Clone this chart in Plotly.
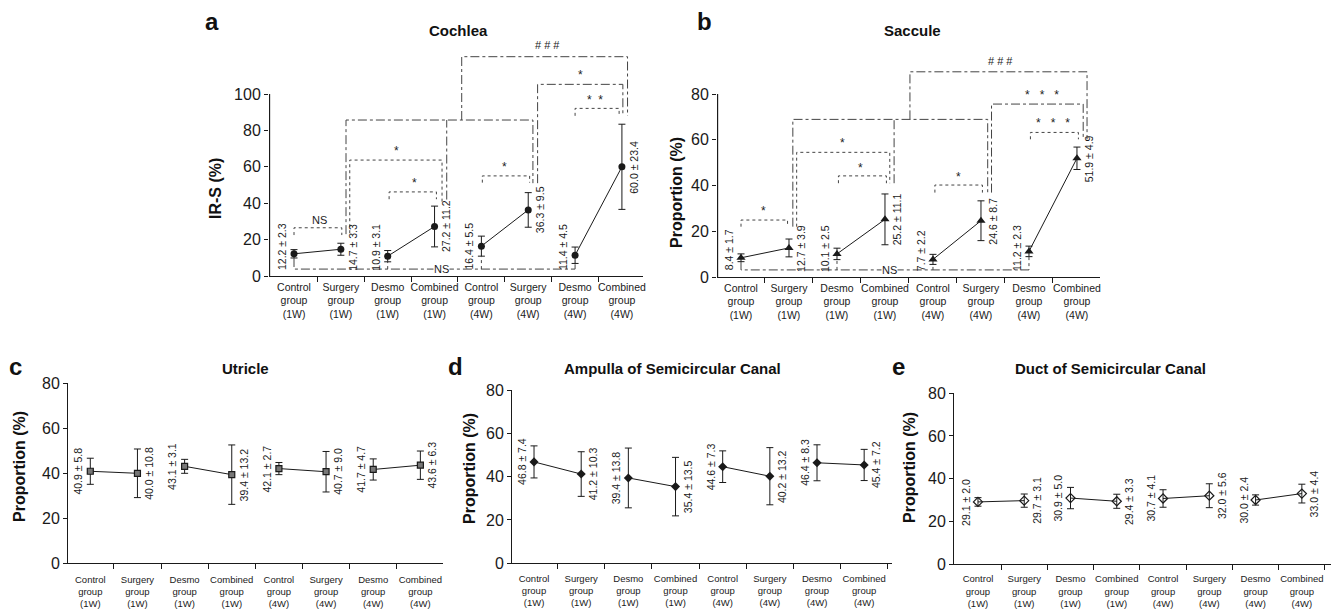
import plotly.graph_objects as go

W, H = 1331, 609

# ---------------- data ----------------
CATEGORIES = ["Control<br>group<br>(1W)", "Surgery<br>group<br>(1W)", "Desmo<br>group<br>(1W)",
              "Combined<br>group<br>(1W)", "Control<br>group<br>(4W)", "Surgery<br>group<br>(4W)",
              "Desmo<br>group<br>(4W)", "Combined<br>group<br>(4W)"]

COCHLEA_MEAN = [12.2, 14.7, 10.9, 27.2, 16.4, 36.3, 11.4, 60.0]
COCHLEA_SD = [2.3, 3.3, 3.1, 11.2, 5.5, 9.5, 4.5, 23.4]
SACCULE_MEAN = [8.4, 12.7, 10.1, 25.2, 7.7, 24.6, 11.2, 51.9]
SACCULE_SD = [1.7, 3.9, 2.5, 11.1, 2.2, 8.7, 2.3, 4.9]
UTRICLE_MEAN = [40.9, 40.0, 43.1, 39.4, 42.1, 40.7, 41.7, 43.6]
UTRICLE_SD = [5.8, 10.8, 3.1, 13.2, 2.7, 9.0, 4.7, 6.3]
AMPULLA_MEAN = [46.8, 41.2, 39.4, 35.4, 44.6, 40.2, 46.4, 45.4]
AMPULLA_SD = [7.4, 10.3, 13.8, 13.5, 7.3, 13.2, 8.3, 7.2]
DUCT_MEAN = [29.1, 29.7, 30.9, 29.4, 30.7, 32.0, 30.0, 33.0]
DUCT_SD = [2.0, 3.1, 5.0, 3.3, 4.1, 5.6, 2.4, 4.4]

# significance brackets: (x_left, x_right, y_top, y_left_end, y_right_end, dash)
COCHLEA_BRACKETS = [
    (0.0, 1.02, 26.5, 22.5, 22.5, "dot"),
    (2.03, 3.04, 46.2, 42.2, 42.2, "dot"),
    (1.19, 3.16, 63.7, 23.5, 40.0, "dot"),
    (1.11, 5.10, 85.7, 23.0, 51.0, "dashdot"),
    (3.58, 7.12, 120.5, 85.7, 88.0, "dashdot"),
    (5.20, 7.02, 105.3, 51.0, 88.0, "dashdot"),
    (6.00, 6.94, 92.1, 88.0, 88.0, "dot"),
    (4.02, 5.03, 55.0, 51.3, 51.3, "dot"),
]
COCHLEA_VLINES = [(3.26, 42.0, 85.7)]
COCHLEA_MARKS = [("NS", 0.55, 30.8), ("*", 2.58, 52.7), ("*", 2.19, 70.5), ("# # #", 5.42, 127.0),
                 ("*", 6.11, 112.3), ("*  *", 6.42, 98.5), ("*", 4.50, 61.5)]
COCHLEA_NS_BOTTOM = (3.8, [0, 2, 4, 6], 3.15)

SACCULE_BRACKETS = [
    (0.0, 0.97, 24.9, 22.0, 22.0, "dot"),
    (2.03, 3.03, 44.2, 41.0, 41.0, "dot"),
    (1.16, 3.10, 54.5, 22.0, 41.0, "dot"),
    (1.08, 5.14, 68.9, 22.0, 36.6, "dashdot"),
    (4.04, 5.03, 40.2, 36.9, 36.9, "dot"),
    (6.03, 7.03, 63.2, 60.2, 60.2, "dot"),
    (5.22, 7.13, 75.6, 36.9, 60.2, "dashdot"),
    (3.52, 7.21, 89.7, 68.9, 60.2, "dashdot"),
]
SACCULE_VLINES = [(3.19, 41.0, 68.9)]
SACCULE_MARKS = [("*", 0.47, 30.0), ("*", 2.50, 49.0), ("*", 2.12, 60.0), ("*", 4.53, 45.0),
                 ("*   *   *", 6.50, 68.6), ("*   *   *", 6.28, 80.7), ("# # #", 5.40, 94.6)]
SACCULE_NS_BOTTOM = (3.1, [0, 2, 4, 6], 3.09)

# ---------------- styles / layout ----------------
FONT = "Liberation Sans, Arial, Helvetica, sans-serif"
NARROW = "Liberation Sans Narrow, Arial Narrow, Liberation Sans, sans-serif"
INK = "#1a1a1a"

panels = [
    dict(letter="a", title="Cochlea", ytitle="IR-S (%)", mean=COCHLEA_MEAN, sd=COCHLEA_SD,
         px=(269, 643), xr=(-0.534, 7.45), py=(276, 39.4), yr=(0, 130), yticks=[0, 20, 40, 60, 80, 100],
         marker=dict(symbol="circle", size=7, color=INK), line="solid",
         brackets=COCHLEA_BRACKETS, vlines=COCHLEA_VLINES, marks=COCHLEA_MARKS, ns=COCHLEA_NS_BOTTOM,
         letter_pos=(212, 22), title_pos=(459, 30), ytitle_pos=(215, 188), standoff=1, xfs=10.5),
    dict(letter="b", title="Saccule", ytitle="Proportion (%)", mean=SACCULE_MEAN, sd=SACCULE_SD,
         px=(717, 1100), xr=(-0.5, 7.48), py=(277, 48.25), yr=(0, 100), yticks=[0, 20, 40, 60, 80],
         marker=dict(symbol="triangle-up", size=8, color=INK), line="solid",
         brackets=SACCULE_BRACKETS, vlines=SACCULE_VLINES, marks=SACCULE_MARKS, ns=SACCULE_NS_BOTTOM,
         letter_pos=(705, 22), title_pos=(912, 30), ytitle_pos=(677, 193), standoff=1, xfs=10.5),
    dict(letter="c", title="Utricle", ytitle="Proportion (%)", mean=UTRICLE_MEAN, sd=UTRICLE_SD,
         px=(68, 443), xr=(-0.473, 7.48), py=(563.3, 383.3), yr=(0, 80), yticks=[0, 20, 40, 60, 80],
         marker=dict(symbol="square", size=6, color="#777", line=dict(color=INK, width=1.2)), line="solid",
         brackets=[], vlines=[], marks=[], ns=None,
         letter_pos=(15, 366), title_pos=(245, 368), ytitle_pos=(20, 467), standoff=7, xfs=9.5),
    dict(letter="d", title="Ampulla of Semicircular Canal", ytitle="Proportion (%)", mean=AMPULLA_MEAN,
         sd=AMPULLA_SD, px=(512, 892), xr=(-0.467, 7.59), py=(563.3, 390), yr=(0, 80),
         yticks=[0, 20, 40, 60, 80], marker=dict(symbol="diamond", size=7, color=INK), line="solid",
         brackets=[], vlines=[], marks=[], ns=None,
         letter_pos=(455, 366), title_pos=(672, 368), ytitle_pos=(470, 469), standoff=6, xfs=9.5),
    dict(letter="e", title="Duct of Semicircular Canal", ytitle="Proportion (%)", mean=DUCT_MEAN, sd=DUCT_SD,
         px=(954, 1331), xr=(-0.518, 7.63), py=(564, 393.3), yr=(0, 80), yticks=[0, 20, 40, 60, 80],
         marker=dict(symbol="diamond-open", size=7, color=INK, line=dict(width=1.2)), line="solid",
         brackets=[], vlines=[], marks=[], ns=None,
         letter_pos=(898, 366), title_pos=(1110, 368), ytitle_pos=(910, 468), standoff=6, xfs=9.5),
]

fig = go.Figure()
shapes = []
annotations = []
layout = {}

for k, p in enumerate(panels):
    sfx = "" if k == 0 else str(k + 1)
    xref, yref = "x" + sfx, "y" + sfx
    top_panel = k < 2
    ppu = (p["py"][0] - p["py"][1]) / (p["yr"][1] - p["yr"][0])  # pixels per unit

    # data traces: pairs connected
    for i in range(0, 8, 2):
        fig.add_trace(go.Scatter(
            x=[i, i + 1], y=p["mean"][i:i + 2], xaxis=xref, yaxis=yref,
            mode="lines+markers", marker=p["marker"],
            line=dict(color=INK, width=1, dash=p["line"]),
            error_y=dict(type="data", array=p["sd"][i:i + 2], visible=True, color=INK,
                         thickness=1, width=3.5),
            showlegend=False, hoverinfo="skip", cliponaxis=False))

    # value labels
    for i, (m, s) in enumerate(zip(p["mean"], p["sd"])):
        txt = f"{m:.1f} \u00b1 {s:.1f}"
        half = len(txt) * 4.4 / 2 / ppu
        floor = 7 / ppu
        yc = max(m, floor + half)
        annotations.append(dict(x=i, y=yc, xref=xref, yref=yref, text=txt, textangle=-90,
                                showarrow=False, xanchor="center", yanchor="middle",
                                xshift=-12 if i % 2 == 0 else 12,
                                font=dict(family=NARROW, size=10.5, color=INK)))

    # axes
    r0, r1 = p["xr"]
    minor_vals = [i + 0.5 for i in range(8) if i + 0.5 < r1]
    layout["xaxis" + sfx] = dict(
        domain=[p["px"][0] / W, p["px"][1] / W], range=list(p["xr"]), anchor=yref, automargin=False,
        tickmode="array", tickvals=list(range(8)), ticktext=CATEGORIES, ticks="",
        showline=True, linecolor=INK, linewidth=1, showgrid=False, zeroline=False,
        tickfont=dict(family=FONT, size=p["xfs"], color=INK), ticklabelstandoff=p["standoff"],
        minor=dict(tickmode="array", tickvals=minor_vals, ticks="outside", ticklen=5,
                   tickcolor=INK, tickwidth=1, showgrid=False),
        fixedrange=True)
    layout["yaxis" + sfx] = dict(
        domain=[(H - p["py"][0]) / H, (H - p["py"][1]) / H], range=list(p["yr"]), anchor=xref,
        automargin=False,
        tickmode="array", tickvals=p["yticks"], ticks="outside", ticklen=4, tickcolor=INK,
        showline=not top_panel, linecolor=INK, linewidth=1, showgrid=False, zeroline=False,
        tickfont=dict(family=FONT, size=16, color=INK), fixedrange=True)
    if top_panel:
        # y axis line only up to the last tick
        shapes.append(dict(type="line", xref=xref, yref=yref, x0=r0 + 0.012, x1=r0 + 0.012,
                           y0=0, y1=p["yticks"][-1], line=dict(color=INK, width=1.2)))

    # brackets
    for (xl, xr_, yt, ybl, ybr, dash) in p["brackets"]:
        shapes.append(dict(type="path", xref=xref, yref=yref,
                           path=f"M {xl},{ybl} L {xl},{yt} L {xr_},{yt} L {xr_},{ybr}",
                           line=dict(color="#444", width=1, dash=dash)))
    for (xv, y0, y1) in p["vlines"]:
        shapes.append(dict(type="line", xref=xref, yref=yref, x0=xv, x1=xv, y0=y0, y1=y1,
                           line=dict(color="#444", width=1, dash="dashdot")))
    for (txt, xm, ym) in p["marks"]:
        star = "*" in txt
        annotations.append(dict(x=xm, y=ym, xref=xref, yref=yref, text=txt, showarrow=False,
                                xanchor="center", yanchor="middle", yshift=-3 if star else 0,
                                font=dict(family=FONT, size=12 if star else 11, color="#222")))
    if p["ns"]:
        ylev, legs, xtext = p["ns"]
        path = f"M {legs[0]},{p['mean'][legs[0]] - p['sd'][legs[0]]} L {legs[0]},{ylev} L {legs[-1]},{ylev} L {legs[-1]},{p['mean'][legs[-1]] - p['sd'][legs[-1]]}"
        shapes.append(dict(type="path", xref=xref, yref=yref, path=path,
                           line=dict(color="#444", width=1, dash="dashdot")))
        for lg in legs[1:-1]:
            shapes.append(dict(type="line", xref=xref, yref=yref, x0=lg, x1=lg, y0=ylev,
                               y1=p["mean"][lg] - p["sd"][lg],
                               line=dict(color="#444", width=1, dash="dot")))
        annotations.append(dict(x=xtext, y=ylev, xref=xref, yref=yref, text="NS", showarrow=False,
                                xanchor="center", yanchor="middle", bgcolor="white", borderpad=0,
                                font=dict(family=FONT, size=11, color="#222")))

    # panel letter, title, y title
    lx, ly = p["letter_pos"]
    annotations.append(dict(x=lx / W, y=1 - ly / H, xref="paper", yref="paper", text=f"<b>{p['letter']}</b>",
                            showarrow=False, xanchor="center", yanchor="middle",
                            font=dict(family=FONT, size=24, color="#111")))
    tx, ty = p["title_pos"]
    annotations.append(dict(x=tx / W, y=1 - ty / H, xref="paper", yref="paper", text=f"<b>{p['title']}</b>",
                            showarrow=False, xanchor="center", yanchor="middle",
                            font=dict(family=FONT, size=15, color="#111")))
    yx, yy = p["ytitle_pos"]
    annotations.append(dict(x=yx / W, y=1 - yy / H, xref="paper", yref="paper", text=f"<b>{p['ytitle']}</b>",
                            showarrow=False, xanchor="center", yanchor="middle", textangle=-90,
                            font=dict(family=FONT, size=16, color="#111")))

fig.update_layout(
    template="none",
    width=W, height=H, margin=dict(l=0, r=0, t=0, b=0, autoexpand=False),
    paper_bgcolor="white", plot_bgcolor="white", showlegend=False,
    shapes=shapes, annotations=annotations, **layout)

fig.write_html("out.html", config={"displayModeBar": False},
               post_script="document.body.style.margin='0';document.body.style.overflow='hidden';")
